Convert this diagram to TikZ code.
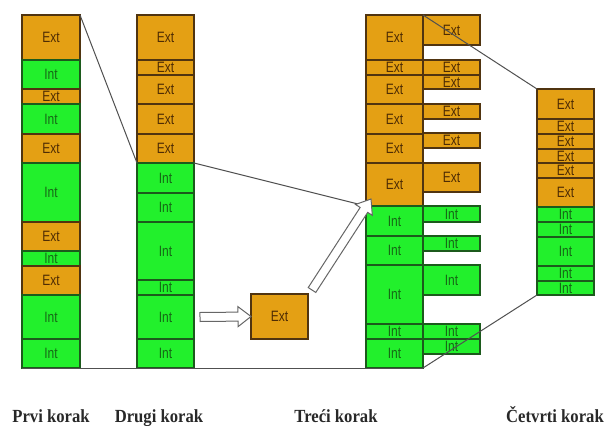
\documentclass[tikz,border=0pt]{standalone}
\usepackage{fontspec}
\setmainfont{Liberation Serif}
\newfontfamily\blkfont[FakeStretch=0.8]{Liberation Sans}
\newfontfamily\capfont[FakeStretch=0.9]{Liberation Serif}
\usetikzlibrary{calc}

\definecolor{extfill}{RGB}{228,160,20}
\definecolor{extline}{RGB}{80,52,16}
\definecolor{exttext}{RGB}{78,44,4}
\definecolor{intfill}{RGB}{34,240,44}
\definecolor{intline}{RGB}{28,90,28}
\definecolor{inttext}{RGB}{22,104,22}
\definecolor{linkgray}{RGB}{80,80,80}
\definecolor{labeltext}{RGB}{40,40,40}

\tikzset{
  blk/.style={rectangle, inner sep=0pt, outer sep=0pt, line width=1.2pt,
    font=\blkfont\fontsize{15}{15}\selectfont},
  extblk/.style={blk, draw=extline, fill=extfill, text=exttext},
  intblk/.style={blk, draw=intline, fill=intfill, text=inttext},
  link/.style={draw=linkgray, line width=1pt},
  hollow/.style={draw=black!60, fill=white, line width=1pt, line join=miter},
  steplabel/.style={font=\capfont\bfseries\fontsize{18.5}{19}\selectfont,
    text=labeltext, anchor=base},
}

% \seg{name}{style}{x1}{y1}{x2}{y2}{text}: block spanning the given corners
\newcommand\seg[7]{%
  \node[#2, minimum width={(#5)-(#3)}, minimum height={(#6)-(#4)}]
    (#1) at ({((#3)+(#5))/2},{((#4)+(#6))/2}) {#7};}

% \hollowarrow{tail}{tip}: white block arrow between two named points
\newcommand\hollowarrow[2]{%
  \path (#2) coordinate (tip) ($(#2)!13pt!(#1)$) coordinate (hb);
  \draw[hollow] ($(#1)!4.5pt!90:(#2)$) -- ($(hb)!4.5pt!90:(tip)$)
    -- ($(hb)!10pt!90:(tip)$) -- (tip) -- ($(hb)!10pt!-90:(tip)$)
    -- ($(hb)!4.5pt!-90:(tip)$) -- ($(#1)!4.5pt!-90:(#2)$) -- cycle;}

\begin{document}
\begin{tikzpicture}[x=1pt, y=-1pt]
\useasboundingbox (0,0) rectangle (606,426);

% first step
\seg{a1}{extblk}{22}{15}{80}{60}{Ext}
\seg{a2}{intblk}{22}{60}{80}{89}{Int}
\seg{a3}{extblk}{22}{89}{80}{104}{Ext}
\seg{a4}{intblk}{22}{104}{80}{134}{Int}
\seg{a5}{extblk}{22}{134}{80}{163}{Ext}
\seg{a6}{intblk}{22}{163}{80}{222}{Int}
\seg{a7}{extblk}{22}{222}{80}{251}{Ext}
\seg{a8}{intblk}{22}{251}{80}{266}{Int}
\seg{a9}{extblk}{22}{266}{80}{295}{Ext}
\seg{a10}{intblk}{22}{295}{80}{339}{Int}
\seg{a11}{intblk}{22}{339}{80}{368}{Int}

% second step
\seg{b1}{extblk}{137}{15}{194}{60}{Ext}
\seg{b2}{extblk}{137}{60}{194}{75}{Ext}
\seg{b3}{extblk}{137}{75}{194}{104}{Ext}
\seg{b4}{extblk}{137}{104}{194}{134}{Ext}
\seg{b5}{extblk}{137}{134}{194}{163}{Ext}
\seg{b6}{intblk}{137}{163}{194}{193}{Int}
\seg{b7}{intblk}{137}{193}{194}{222}{Int}
\seg{b8}{intblk}{137}{222}{194}{280}{Int}
\seg{b9}{intblk}{137}{280}{194}{295}{Int}
\seg{b10}{intblk}{137}{295}{194}{339}{Int}
\seg{b11}{intblk}{137}{339}{194}{368}{Int}

% block being moved
\seg{m}{extblk}{251}{294}{308}{339}{Ext}

% third step, main column
\seg{c1}{extblk}{366}{15}{423}{60}{Ext}
\seg{c2}{extblk}{366}{60}{423}{75}{Ext}
\seg{c3}{extblk}{366}{75}{423}{104}{Ext}
\seg{c4}{extblk}{366}{104}{423}{134}{Ext}
\seg{c5}{extblk}{366}{134}{423}{163}{Ext}
\seg{c6}{extblk}{366}{163}{423}{206}{Ext}
\seg{c7}{intblk}{366}{206}{423}{236}{Int}
\seg{c8}{intblk}{366}{236}{423}{265}{Int}
\seg{c9}{intblk}{366}{265}{423}{324}{Int}
\seg{c10}{intblk}{366}{324}{423}{339}{Int}
\seg{c11}{intblk}{366}{339}{423}{368}{Int}

% third step, side blocks
\seg{d1}{extblk}{423}{15}{480}{45}{Ext}
\seg{d2}{extblk}{423}{60}{480}{75}{Ext}
\seg{d3}{extblk}{423}{75}{480}{89}{Ext}
\seg{d4}{extblk}{423}{104}{480}{119}{Ext}
\seg{d5}{extblk}{423}{133}{480}{148}{Ext}
\seg{d6}{extblk}{423}{163}{480}{192}{Ext}
\seg{d7}{intblk}{423}{206}{480}{222}{Int}
\seg{d8}{intblk}{423}{236}{480}{251}{Int}
\seg{d9}{intblk}{423}{265}{480}{295}{Int}
\seg{d10}{intblk}{423}{324}{480}{339}{Int}
\seg{d11}{intblk}{423}{339}{480}{354}{Int}

% fourth step
\seg{e1}{extblk}{537}{89}{594}{119}{Ext}
\seg{e2}{extblk}{537}{119}{594}{134}{Ext}
\seg{e3}{extblk}{537}{134}{594}{149}{Ext}
\seg{e4}{extblk}{537}{149}{594}{163}{Ext}
\seg{e5}{extblk}{537}{163}{594}{178}{Ext}
\seg{e6}{extblk}{537}{178}{594}{207}{Ext}
\seg{e7}{intblk}{537}{207}{594}{222}{Int}
\seg{e8}{intblk}{537}{222}{594}{237}{Int}
\seg{e9}{intblk}{537}{237}{594}{266}{Int}
\seg{e10}{intblk}{537}{266}{594}{281}{Int}
\seg{e11}{intblk}{537}{281}{594}{295}{Int}

% guide lines between the steps
\draw[link] (a1.north east) -- (b6.north west);
\draw[link] (b6.north east) -- (c7.north west);
\draw[link] (a11.south west) -- (c11.south east);
\draw[link] (c1.north east) -- (e1.north west);
\draw[link] (c11.south east) -- (e11.south west);

% movement arrows
\coordinate (h0) at (200,317);
\coordinate (g0) at (312,290);
\coordinate (g1) at (371,199);
\hollowarrow{h0}{m.west}
\hollowarrow{g0}{g1}

% step captions
\node[steplabel] (l1) at (51,422) {Prvi korak};
\node[steplabel] (l2) at (159,422) {Drugi korak};
\node[steplabel] (l3) at (336,422) {Treći korak};
\node[steplabel] (l4) at (555,422) {Četvrti korak};
\end{tikzpicture}
\end{document}
